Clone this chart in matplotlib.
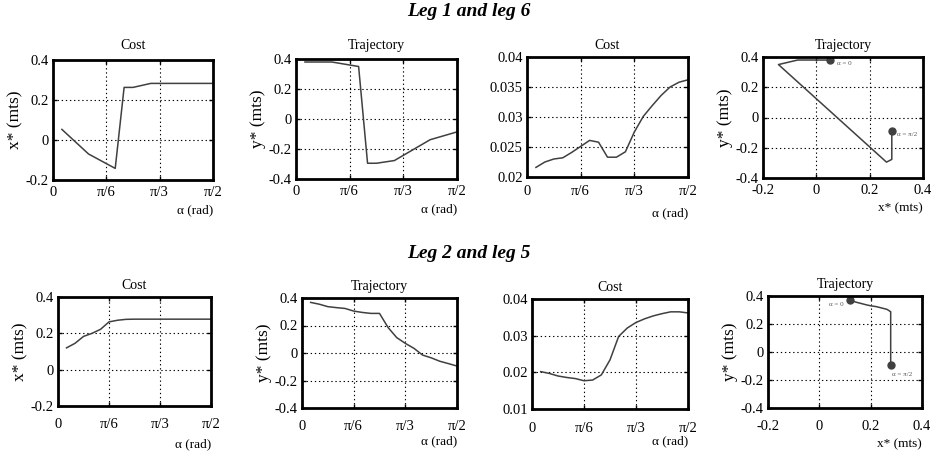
import numpy as np
import matplotlib.pyplot as plt

plt.rcParams['font.family'] = ['Liberation Serif', 'DejaVu Serif']

# angle grid (degrees)
alpha_deg = [5, 10, 15, 20, 25, 30, 35, 40, 45, 50, 55, 60, 65, 70, 75, 80, 85, 90]

# leg 1 and leg 6
alpha1_deg = [5, 20, 35, 40, 45, 55, 75, 90]
x1 = [0.053, -0.07, -0.142, 0.263, 0.263, 0.283, 0.283, 0.283]
y1 = [0.38, 0.38, 0.35, -0.295, -0.295, -0.277, -0.138, -0.086]
cost1 = [0.0216, 0.0225, 0.0230, 0.0232, 0.0241, 0.0251, 0.0261, 0.0258, 0.0233,
         0.0233, 0.0242, 0.0275, 0.0301, 0.0319, 0.0336, 0.0350, 0.0358, 0.0362]

# leg 2 and leg 5
x2 = [0.12, 0.145, 0.183, 0.20, 0.222, 0.263, 0.272, 0.277, 0.278, 0.278, 0.278, 0.278,
      0.278, 0.278, 0.278, 0.278, 0.278, 0.278]
y2 = [0.368, 0.355, 0.337, 0.33, 0.324, 0.305, 0.295, 0.288, 0.288, 0.185, 0.112, 0.07,
      0.034, -0.015, -0.035, -0.06, -0.077, -0.095]
cost2 = [0.0202, 0.0197, 0.0190, 0.0186, 0.0183, 0.0177, 0.0179, 0.0193, 0.0234,
         0.0298, 0.0321, 0.0336, 0.0346, 0.0354, 0.0360, 0.0365, 0.0365, 0.0362]

alpha_ticks = [0, np.pi / 6, np.pi / 3, np.pi / 2]
alpha_labels = ['0', 'π/6', 'π/3', 'π/2']

line_col = '#404040'
W, H = 941, 453


def rect(l, t, r, b):
    return [l / W, 1 - b / H, (r - l) / W, (b - t) / H]


def style(ax, title, yticks, ylabels, xticks, xlabels, xlabel, ylabel=None, xpad=4, tpad=8):
    ax.set_xlim(xticks[0], xticks[-1])
    ax.set_ylim(yticks[0], yticks[-1])
    ax.set_xticks(xticks)
    ax.set_xticklabels(xlabels)
    ax.set_yticks(yticks)
    ax.set_yticklabels(ylabels)
    ax.tick_params(direction='in', length=3, width=1, top=True, right=True,
                   labelsize=10.5, pad=xpad)
    ax.tick_params(axis='y', pad=3)
    ax.grid(True, color='black', linestyle=(0, (1.2, 2.5)), linewidth=0.8)
    for s in ax.spines.values():
        s.set_linewidth(2)
    ax.set_title(title, fontsize=10, pad=tpad)
    ax.set_xlabel(xlabel, fontsize=9.5, labelpad=1)
    ax.xaxis.set_label_coords(1.0, -0.2)
    ax.xaxis.label.set_horizontalalignment('right')
    if ylabel:
        ax.set_ylabel(ylabel, fontsize=12.5, labelpad=2)


fig = plt.figure(figsize=(W / 100, H / 100), dpi=100)

a1 = np.deg2rad(alpha1_deg)
a = np.deg2rad(alpha_deg)

# top row
ax = fig.add_axes(rect(53, 60, 213, 180))
ax.plot(a1, x1, color=line_col, lw=1.1)
style(ax, 'Cost', [-0.2, 0, 0.2, 0.4], ['-0.2', '0', '0.2', '0.4'],
      alpha_ticks, alpha_labels, 'α (rad)', 'x* (mts)')

ax = fig.add_axes(rect(296, 59, 457, 179))
ax.plot(a1, y1, color=line_col, lw=1.1)
style(ax, 'Trajectory', [-0.4, -0.2, 0, 0.2, 0.4], ['-0.4', '-0.2', '0', '0.2', '0.4'],
      alpha_ticks, alpha_labels, 'α (rad)', 'y* (mts)', tpad=7)

ax = fig.add_axes(rect(527, 57, 688, 177))
ax.plot(a, cost1, color=line_col, lw=1.1)
style(ax, 'Cost', [0.02, 0.025, 0.03, 0.035, 0.04], ['0.02', '0.025', '0.03', '0.035', '0.04'],
      alpha_ticks, alpha_labels, 'α (rad)', xpad=6, tpad=6)
ax.xaxis.set_label_coords(1.0, -0.25)

ax = fig.add_axes(rect(763, 57, 923, 178))
ax.plot(x1, y1, color=line_col, lw=1.1)
ax.plot([x1[0], x1[-1]], [y1[0], y1[-1]], 'o', color=line_col, ms=5)
ax.text(x1[0] + 0.025, y1[0] - 0.02, 'α = 0', fontsize=5, color='#555555', va='center')
ax.text(x1[-1] + 0.02, y1[-1] - 0.025, 'α = π/2', fontsize=5, color='#555555', va='center')
style(ax, 'Trajectory', [-0.4, -0.2, 0, 0.2, 0.4], ['-0.4', '-0.2', '0', '0.2', '0.4'],
      [-0.2, 0, 0.2, 0.4], ['-0.2', '0', '0.2', '0.4'], 'x* (mts)', 'y* (mts)', tpad=6)

# bottom row
ax = fig.add_axes(rect(58, 297, 211, 406))
ax.plot(a, x2, color=line_col, lw=1.1)
style(ax, 'Cost', [-0.2, 0, 0.2, 0.4], ['-0.2', '0', '0.2', '0.4'],
      alpha_ticks, alpha_labels, 'α (rad)', 'x* (mts)', xpad=9, tpad=6)
ax.xaxis.set_label_coords(1.0, -0.3)

ax = fig.add_axes(rect(302, 298, 457, 408))
ax.plot(a, y2, color=line_col, lw=1.1)
style(ax, 'Trajectory', [-0.4, -0.2, 0, 0.2, 0.4], ['-0.4', '-0.2', '0', '0.2', '0.4'],
      alpha_ticks, alpha_labels, 'α (rad)', 'y* (mts)', xpad=9, tpad=6)
ax.xaxis.set_label_coords(1.0, -0.25)

ax = fig.add_axes(rect(532, 299, 688, 409))
ax.plot(a, cost2, color=line_col, lw=1.1)
style(ax, 'Cost', [0.01, 0.02, 0.03, 0.04], ['0.01', '0.02', '0.03', '0.04'],
      alpha_ticks, alpha_labels, 'α (rad)', xpad=9, tpad=6)
ax.xaxis.set_label_coords(1.0, -0.24)

ax = fig.add_axes(rect(768, 296, 922, 408))
ax.plot(x2, y2, color=line_col, lw=1.1)
ax.plot([x2[0], x2[-1]], [y2[0], y2[-1]], 'o', color=line_col, ms=5)
ax.text(x2[0] - 0.025, y2[0] - 0.03, 'α = 0', fontsize=5, color='#555555', ha='right', va='center')
ax.text(x2[-1] + 0.005, y2[-1] - 0.065, 'α = π/2', fontsize=5, color='#555555', va='center')
style(ax, 'Trajectory', [-0.4, -0.2, 0, 0.2, 0.4], ['-0.4', '-0.2', '0', '0.2', '0.4'],
      [-0.2, 0, 0.2, 0.4], ['-0.2', '0', '0.2', '0.4'], 'x* (mts)', 'y* (mts)', xpad=9, tpad=6)
ax.xaxis.set_label_coords(1.0, -0.27)

fig.text(469 / W, 1 - 11 / H, 'Leg 1 and leg 6', fontsize=14, fontweight='bold',
         fontstyle='italic', ha='center', va='center')
fig.text(469 / W, 1 - 254 / H, 'Leg 2 and leg 5', fontsize=14, fontweight='bold',
         fontstyle='italic', ha='center', va='center')

fig.savefig('out.png', dpi=100)
